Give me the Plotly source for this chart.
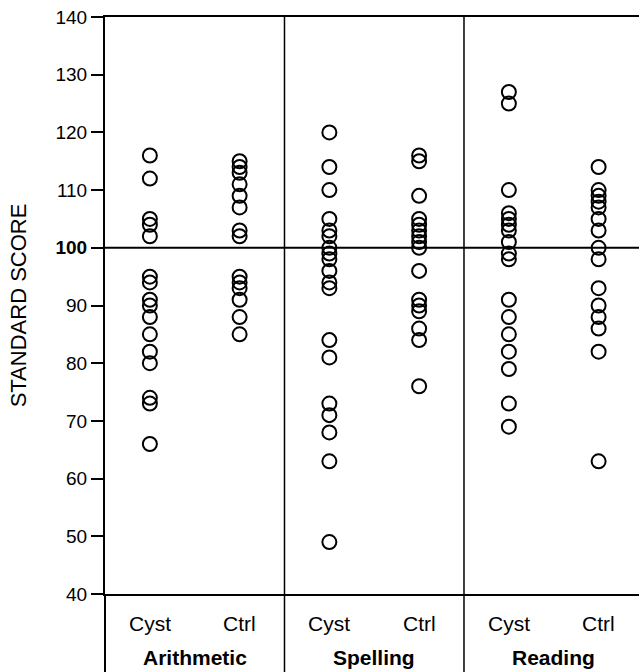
import plotly.graph_objects as go

# ---- data ----
tests = ["Arithmetic", "Spelling", "Reading"]
groups = ["Cyst", "Ctrl"]

arith_cyst = [116, 112, 105, 104, 102, 95, 94, 91, 90, 88, 85, 82, 80, 74, 73, 66]
arith_ctrl = [115, 114, 113, 111, 109, 107, 103, 102, 95, 94, 93, 91, 88, 85]
spell_cyst = [120, 114, 110, 105, 103, 102, 100, 99, 98, 96, 94, 93, 84, 81, 73, 71, 68, 63, 49]
spell_ctrl = [116, 115, 109, 105, 104, 103, 102, 101, 100, 96, 91, 90, 89, 86, 84, 76]
read_cyst = [127, 125, 110, 106, 105, 104, 103, 101, 99, 98, 91, 88, 85, 82, 79, 73, 69]
read_ctrl = [114, 110, 109, 108, 107, 105, 103, 100, 98, 93, 90, 88, 86, 82, 63]

y_ticks = [40, 50, 60, 70, 80, 90, 100, 110, 120, 130, 140]
reference_score = 100

series = {
    ("Arithmetic", "Cyst"): arith_cyst,
    ("Arithmetic", "Ctrl"): arith_ctrl,
    ("Spelling", "Cyst"): spell_cyst,
    ("Spelling", "Ctrl"): spell_ctrl,
    ("Reading", "Cyst"): read_cyst,
    ("Reading", "Ctrl"): read_ctrl,
}

FONT = "Liberation Sans, Arial, Helvetica, sans-serif"
X_MAX = 2.975  # right panel runs slightly past the window edge
sub_offset = {"Cyst": 0.25, "Ctrl": 0.75}

fig = go.Figure()
for (test, grp), vals in series.items():
    gi = tests.index(test)
    fig.add_trace(go.Scatter(
        x=[gi + sub_offset[grp]] * len(vals),
        y=vals,
        mode="markers",
        marker=dict(symbol="circle-open", size=14, color="black",
                    line=dict(width=2, color="black")),
        showlegend=False,
        hoverinfo="y",
    ))

shapes = []
# reference line at 100
shapes.append(dict(type="line", xref="paper", yref="y", x0=0, x1=1,
                   y0=reference_score, y1=reference_score,
                   line=dict(color="black", width=2)))
# panel separators, extending through label area
for k in range(1, len(tests)):
    xp = k / X_MAX
    shapes.append(dict(type="line", xref="paper", yref="paper", x0=xp, x1=xp,
                       y0=-0.2, y1=1, line=dict(color="black", width=1.5)))
# left axis extension below plot
shapes.append(dict(type="line", xref="paper", yref="paper", x0=0, x1=0,
                   y0=-0.2, y1=0, line=dict(color="black", width=2)))

annotations = []
for gi, test in enumerate(tests):
    for grp in groups:
        annotations.append(dict(
            x=(gi + sub_offset[grp]) / X_MAX, xref="paper",
            y=-0.051, yref="paper", text=grp, showarrow=False,
            xanchor="center", yanchor="middle",
            font=dict(family=FONT, size=21, color="black")))
    annotations.append(dict(
        x=(gi + 0.5) / X_MAX, xref="paper",
        y=-0.110, yref="paper", text="<b>%s</b>" % test, showarrow=False,
        xanchor="center", yanchor="middle",
        font=dict(family=FONT, size=21, color="black")))

ticktext = ["<b>%d</b>" % v if v == reference_score else str(v) for v in y_ticks]

fig.update_layout(
    width=639, height=672,
    margin=dict(l=105, r=0, t=17, b=78),
    paper_bgcolor="white", plot_bgcolor="white",
    font=dict(family=FONT, color="black", size=19),
    shapes=shapes,
    annotations=annotations,
    xaxis=dict(range=[0, X_MAX], showticklabels=False, ticks="",
               showgrid=False, zeroline=False, showline=True, mirror=True,
               linecolor="black", linewidth=1.5),
    yaxis=dict(range=[40, 140], tickvals=y_ticks, ticktext=ticktext,
               ticks="outside", ticklen=12, tickwidth=1.5, tickcolor="black",
               showgrid=False, zeroline=False, showline=True,
               linecolor="black", linewidth=2,
               tickfont=dict(family=FONT, size=19, color="black"),
               title=dict(text="STANDARD SCORE", standoff=23,
                          font=dict(family=FONT, size=22, color="black"))),
)

fig.write_html("out.html",
               config={"displayModeBar": False},
               post_script="document.body.style.margin='0px';document.body.style.padding='0px';")
